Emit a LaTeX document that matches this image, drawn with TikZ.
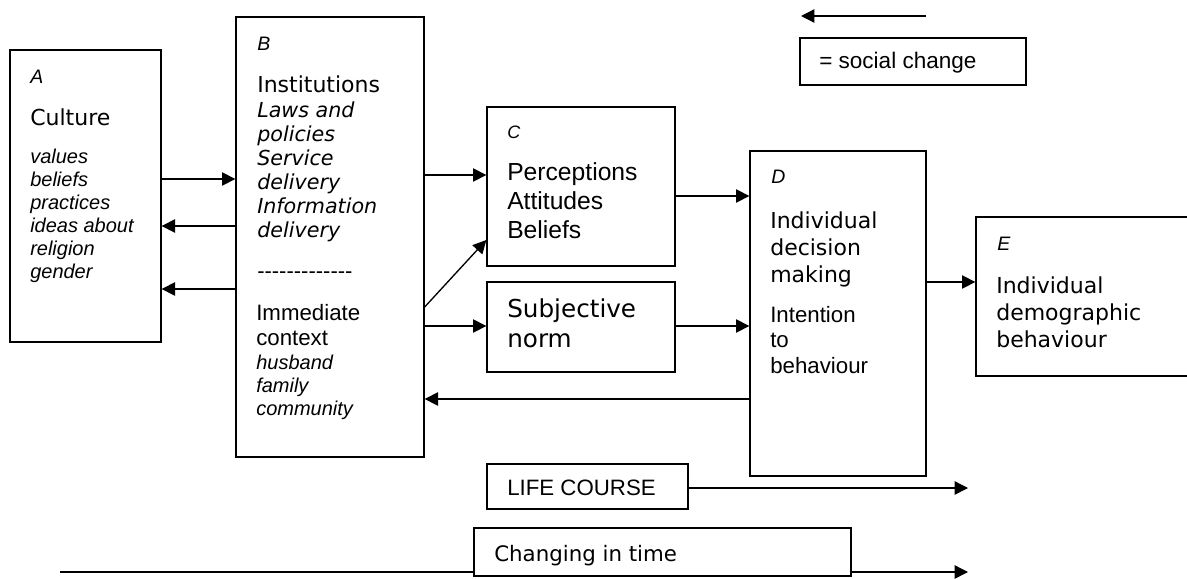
\documentclass[tikz,border=0pt]{standalone}
\usepackage{fontspec}
\setmainfont{Liberation Sans}
\newfontfamily\verd{DejaVu Sans}
\usetikzlibrary{arrows.meta,fit}

\tikzset{
	box/.style={draw, line width=1pt, inner sep=0pt, fill=white},
	arr/.style={line width=1pt, -{Triangle[length=10pt,width=10pt]}},
	txt/.style={anchor=base west, inner sep=0pt, align=left},
}
\newcommand{\hy}{\mbox{-}}

\begin{document}
\begin{tikzpicture}[x=0.75pt, y=-0.75pt]
	\useasboundingbox (0,0) rectangle (1187,578);
	
	% time lines
	\coordinate (tStart) at (60,572);
	\coordinate (tEnd) at (968,572);
	\draw[arr] (tStart) -- (tEnd);
	
	\node[box, fit={(10,50) (161,342)}] (A) {};
	\node[box, fit={(236,17) (424,457)}] (B) {};
	\node[box, fit={(487,107) (675,266)}] (C) {};
	\node[box, fit={(487,282) (675,372)}] (S) {};
	\node[box, fit={(750,151) (926,476)}] (D) {};
	\node[box, fit={(976,217) (1195,376)}] (E) {};
	\node[box, fit={(800,38) (1026,85)}] (leg) {};
	\node[box, fit={(487,464) (688,509)}] (LC) {};
	\node[box, fit={(474,528) (851,576)}] (CT) {};
	
	% multi-line texts sit on the baseline of their last line
	% A
	\node[txt, font=\fontsize{14.6}{17}\selectfont\itshape] at (30,83) (Alab) {A};
	\node[txt, font=\verd\fontsize{16.5}{20}\selectfont] at (30,125) (Aname) {Culture};
	\node[txt, font=\fontsize{15}{17.25}\selectfont\itshape] at (30,278) (Alist) {values\\beliefs\\practices\\ideas about\\religion\\gender};
	
	% B
	\node[txt, font=\fontsize{14.6}{17}\selectfont\itshape] at (257,50) (Blab) {B};
	\node[txt, font=\verd\fontsize{16.5}{20}\selectfont] at (257,92) (Bname) {Institutions};
	\node[txt, font=\verd\itshape\fontsize{15.5}{18}\selectfont] at (257,237) (Blist) {Laws and\\policies\\Service\\delivery\\Information\\delivery};
	\node[txt, font=\fontsize{16.5}{20}\selectfont] at (257,278) (Bdash) {\hy\hy\hy\hy\hy\hy\hy\hy\hy\hy\hy\hy\hy};
	\node[txt, font=\fontsize{16.7}{18.75}\selectfont] at (256,345) (Bctx) {Immediate\\context};
	\node[txt, font=\fontsize{15}{17.25}\selectfont\itshape] at (256,415) (Bctxlist) {husband\\family\\community};
	
	% C
	\node[txt, font=\fontsize{13.5}{16}\selectfont\itshape] at (507,138) (Clab) {C};
	\node[txt, font=\fontsize{18.5}{21.4}\selectfont] at (507,238) (Cname) {Perceptions\\Attitudes\\Beliefs};
	\node[txt, font=\verd\fontsize{18.5}{22.5}\selectfont] at (507,347) (Sname) {Subjective\\norm};
	
	% D
	\node[txt, font=\fontsize{14.6}{17}\selectfont\itshape] at (771,183) (Dlab) {D};
	\node[txt, font=\verd\fontsize{16.5}{20.25}\selectfont] at (770,282) (Dname) {Individual\\decision\\making};
	\node[txt, font=\fontsize{16.7}{19.1}\selectfont] at (770,373) (Dint) {Intention\\to\\behaviour};
	
	% E
	\node[txt, font=\fontsize{14.6}{17}\selectfont\itshape] at (997,250) (Elab) {E};
	\node[txt, font=\verd\fontsize{16.5}{20.25}\selectfont] at (996,347) (Ename) {Individual\\demographic\\behaviour};
	
	% legend and time labels
	\node[txt, font=\fontsize{16.9}{20}\selectfont] at (819,68) (legtxt) {= social change};
	\node[txt, font=\fontsize{16.7}{20}\selectfont] at (507,495) (LCtxt) {LIFE COURSE};
	\node[txt, font=\verd\fontsize{16}{20}\selectfont] at (494,561) (CTtxt) {Changing in time};
	
	\coordinate (legR) at (926,16);
	\coordinate (legL) at (801,16);
	\draw[arr] (legR) -- (legL);
	\coordinate (lcEnd) at (968,488);
	\draw[arr] (LC.east |- 0,488) -- (lcEnd);
	
	% connectors
	\draw[arr] (A.east |- 0,179) -- (B.west |- 0,179);
	\draw[arr] (B.west |- 0,226) -- (A.east |- 0,226);
	\draw[arr] (B.west |- 0,289) -- (A.east |- 0,289);
	\draw[arr] (B.east |- 0,175) -- (C.west |- 0,175);
	\draw[arr] (B.east |- 0,307) -- (C.west |- 0,240);
	\draw[arr] (B.east |- 0,326) -- (S.west |- 0,326);
	\draw[arr] (C.east |- 0,196) -- (D.west |- 0,196);
	\draw[arr] (S.east |- 0,326) -- (D.west |- 0,326);
	\draw[arr] (D.west |- 0,399) -- (B.east |- 0,399);
	\draw[arr] (D.east |- 0,282) -- (E.west |- 0,282);
\end{tikzpicture}
\end{document}
